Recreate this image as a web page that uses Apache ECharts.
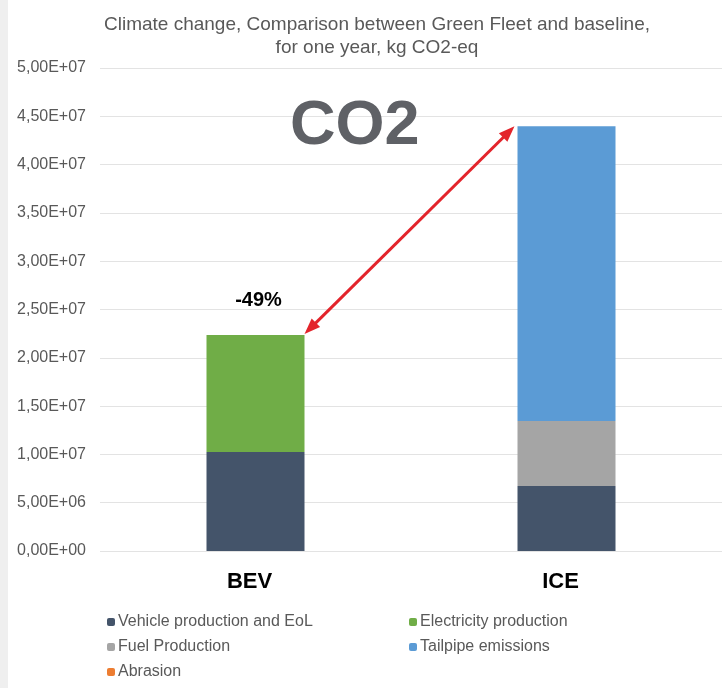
<!DOCTYPE html>
<html><head><meta charset="utf-8">
<script src="https://cdn.jsdelivr.net/npm/echarts@6/dist/echarts.min.js"></script>
<style>html,body{margin:0;padding:0;background:#fff}#c{width:726px;height:688px}</style>
</head><body><div id="c"></div>
<script>
const categories = ['BEV', 'ICE'];
const vehicleProduction = [10.25e6, 6.73e6];
const electricityProduction = [12.1e6, 0];
const fuelProduction = [0, 6.73e6];
const tailpipeEmissions = [0, 30.5e6];
const abrasion = [0, 0];
const yTicks = { min: 0, max: 5e7, interval: 5e6 };
const reductionLabel = '-49%';

function fmt(v) {
  if (v === 0) return '0,00E+00';
  const e = Math.floor(Math.log10(Math.abs(v)));
  const m = v / Math.pow(10, e);
  return m.toFixed(2).replace('.', ',') + 'E+' + String(e).padStart(2, '0');
}
const font = 'Liberation Sans, Arial, sans-serif';
const chart = echarts.init(document.getElementById('c'));
const bw = 98;
function bar(name, data, color) {
  return { name, type: 'bar', stack: 'a', data, barWidth: bw, itemStyle: { color } };
}
chart.setOption({
  animation: false,
  backgroundColor: '#fff',
  textStyle: { fontFamily: font },
  title: {
    text: 'Climate change, Comparison between Green Fleet and baseline,\nfor one year, kg CO2-eq',
    left: 372, top: 8, textAlign: 'center',
    textStyle: { fontSize: 19, fontWeight: 'normal', color: '#595959', lineHeight: 23, fontFamily: font }
  },
  grid: { left: 100, right: 4, top: 68, bottom: 137 },
  xAxis: {
    type: 'category', data: categories,
    axisLine: { show: false }, axisTick: { show: false },
    axisLabel: { fontSize: 22, fontWeight: 'bold', color: '#000', margin: 20, fontFamily: font, padding: [0, 12, 0, 0] }
  },
  yAxis: {
    type: 'value', min: yTicks.min, max: yTicks.max, interval: yTicks.interval,
    axisLabel: { formatter: fmt, fontSize: 16, color: '#595959', margin: 14, fontFamily: font },
    splitLine: { lineStyle: { color: '#e3e3e3', width: 1 } },
    axisLine: { show: false }, axisTick: { show: false }
  },
  legend: [
    { data: ['Vehicle production and EoL', 'Fuel Production', 'Abrasion'], orient: 'vertical',
      left: 102, top: 609, itemWidth: 8, itemHeight: 8, itemGap: 9,
      textStyle: { fontSize: 16, color: '#595959', fontFamily: font, padding: [0, 0, 0, -2] } },
    { data: ['Electricity production', 'Tailpipe emissions'], orient: 'vertical',
      left: 404, top: 609, itemWidth: 8, itemHeight: 8, itemGap: 9,
      textStyle: { fontSize: 16, color: '#595959', fontFamily: font, padding: [0, 0, 0, -2] } }
  ],
  series: [
    bar('Vehicle production and EoL', vehicleProduction, '#44546a'),
    bar('Electricity production', electricityProduction, '#70ad47'),
    bar('Fuel Production', fuelProduction, '#a5a5a5'),
    bar('Tailpipe emissions', tailpipeEmissions, '#5b9bd5'),
    bar('Abrasion', abrasion, '#ed7d31')
  ]
});

// annotations positioned from the chart's own scales
const bevTop = vehicleProduction[0] + electricityProduction[0];
const iceTop = vehicleProduction[1] + fuelProduction[1] + tailpipeEmissions[1] + abrasion[1];
const pB = chart.convertToPixel({ seriesIndex: 0 }, [0, bevTop]);
const pI = chart.convertToPixel({ seriesIndex: 0 }, [1, iceTop]);
const a = [pB[0] + bw / 2, pB[1] - 1];
const b = [pI[0] - bw / 2 - 3, pI[1]];
const dx = b[0] - a[0], dy = b[1] - a[1];
const L = Math.hypot(dx, dy), ux = dx / L, uy = dy / L, nx = -uy, ny = ux;
const hl = 16, hw = 6;
function head(tip, dir) {
  const bx = tip[0] - dir[0] * hl, by = tip[1] - dir[1] * hl;
  return [tip, [bx + nx * hw, by + ny * hw], [bx - nx * hw, by - ny * hw]];
}
const red = '#e3242b';
chart.setOption({
  graphic: [
    { type: 'rect', shape: { x: 0, y: 0, width: 8, height: 688 }, style: { fill: '#efefef' }, z: -1 },
    { type: 'text', left: 290, top: 95, style: { text: 'CO2', font: 'bold 63px ' + font, fill: '#5f6166' } },
    { type: 'text', x: pB[0] + 3, y: pB[1] - 45, style: { text: reductionLabel, font: 'bold 20px ' + font, fill: '#000', textAlign: 'center' } },
    { type: 'line', shape: { x1: a[0] + ux * 12, y1: a[1] + uy * 12, x2: b[0] - ux * 12, y2: b[1] - uy * 12 },
      style: { stroke: red, lineWidth: 3 } },
    { type: 'polygon', shape: { points: head(a, [-ux, -uy]) }, style: { fill: red } },
    { type: 'polygon', shape: { points: head(b, [ux, uy]) }, style: { fill: red } }
  ]
});
</script></body></html>
